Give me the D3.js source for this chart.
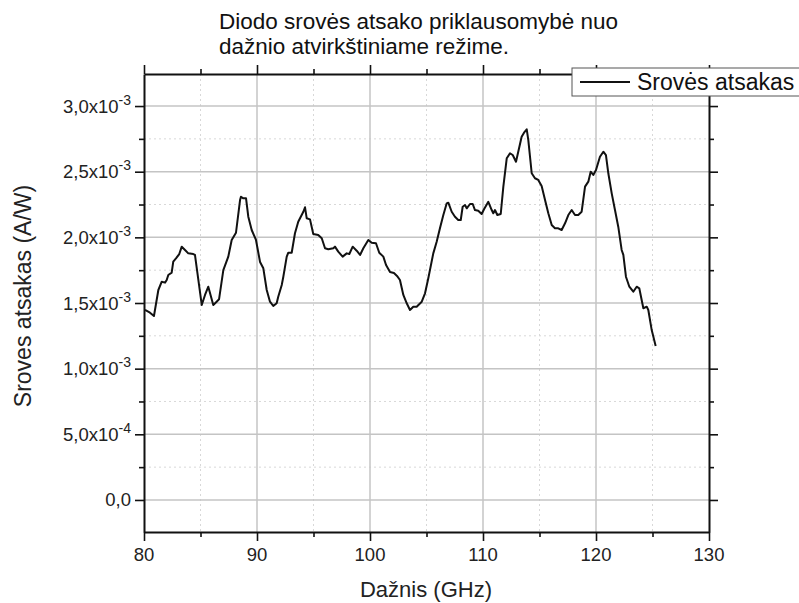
<!DOCTYPE html>
<html>
<head>
<meta charset="utf-8">
<script src="https://cdn.jsdelivr.net/npm/d3@7/dist/d3.min.js"></script>
<style>
  html, body { margin: 0; padding: 0; background: #fff; }
  svg { display: block; font-family: "Liberation Sans", Arial, sans-serif; }
</style>
</head>
<body>
<svg id="chart" width="799" height="603"></svg>
<script>
// Frequency (GHz) and current responsivity (A/W, in units of 1e-3)
const freqGHz = [
  80.09, 80.53, 80.88, 81.27, 81.57, 81.86, 82.01, 82.15, 82.45, 82.59,
  82.83, 83.12, 83.34, 83.63, 83.92, 84.36, 84.51, 85.11, 85.40, 85.69,
  86.13, 86.43, 86.64, 87.02, 87.46, 87.76, 88.14, 88.50, 88.58, 88.79,
  89.03, 89.23, 89.53, 89.91, 90.27, 90.56, 90.86, 91.15, 91.44, 91.74,
  91.88, 92.19, 92.33, 92.63, 92.77, 93.07, 93.36, 93.65, 94.10, 94.25,
  94.40, 94.69, 94.98, 95.42, 95.73, 96.02, 96.31, 96.75, 96.90, 97.19,
  97.58, 97.94, 98.17, 98.47, 98.82, 99.12, 99.41, 99.85, 100.15, 100.53,
  100.82, 101.18, 101.42, 101.77, 102.12, 102.39, 102.65, 102.95, 103.25, 103.54,
  103.83, 104.13, 104.58, 104.87, 105.16, 105.60, 105.90, 106.19, 106.49, 106.79,
  106.93, 107.23, 107.52, 107.81, 108.03, 108.20, 108.41, 108.56, 108.85, 109.09,
  109.29, 109.58, 109.88, 110.09, 110.47, 110.77, 110.91, 111.06, 111.27, 111.57,
  111.80, 112.10, 112.39, 112.63, 112.92, 113.12, 113.42, 113.63, 113.87, 114.01,
  114.31, 114.60, 114.89, 115.19, 115.49, 115.78, 116.08, 116.37, 116.66, 116.96,
  117.26, 117.55, 117.85, 118.14, 118.43, 118.73, 119.03, 119.32, 119.53, 119.76,
  120.00, 120.35, 120.65, 120.88, 121.09, 121.39, 121.68, 121.97, 122.27, 122.42,
  122.65, 122.95, 123.30, 123.60, 123.83, 124.19, 124.49, 124.63, 124.93, 125.28
];
const responseMilli = [
  1.447, 1.426, 1.401, 1.599, 1.662, 1.655, 1.675, 1.713, 1.731, 1.815,
  1.840, 1.873, 1.929, 1.904, 1.878, 1.873, 1.866, 1.485, 1.561, 1.624,
  1.485, 1.510, 1.528, 1.751, 1.853, 1.980, 2.035, 2.284, 2.309, 2.297,
  2.297, 2.157, 2.056, 1.980, 1.812, 1.764, 1.599, 1.510, 1.477, 1.498,
  1.548, 1.637, 1.700, 1.853, 1.883, 1.883, 2.031, 2.119, 2.195, 2.229,
  2.145, 2.137, 2.025, 2.018, 1.993, 1.917, 1.909, 1.917, 1.929, 1.891,
  1.853, 1.878, 1.873, 1.929, 1.898, 1.866, 1.917, 1.980, 1.959, 1.955,
  1.883, 1.853, 1.789, 1.736, 1.728, 1.706, 1.675, 1.561, 1.498, 1.447,
  1.472, 1.472, 1.510, 1.574, 1.688, 1.878, 1.967, 2.069, 2.170, 2.259,
  2.264, 2.195, 2.157, 2.132, 2.132, 2.233, 2.246, 2.221, 2.254, 2.254,
  2.208, 2.203, 2.178, 2.214, 2.271, 2.208, 2.183, 2.208, 2.170, 2.178,
  2.386, 2.602, 2.640, 2.627, 2.576, 2.652, 2.766, 2.797, 2.823, 2.741,
  2.488, 2.450, 2.437, 2.391, 2.284, 2.183, 2.094, 2.069, 2.069, 2.056,
  2.107, 2.170, 2.208, 2.170, 2.170, 2.195, 2.386, 2.424, 2.500, 2.475,
  2.513, 2.614, 2.652, 2.627, 2.488, 2.335, 2.208, 2.081, 1.904, 1.866,
  1.700, 1.624, 1.586, 1.624, 1.612, 1.460, 1.472, 1.447, 1.294, 1.173
];

// Axis ticks
const xMajorTicks = [80, 90, 100, 110, 120, 130];
const xMinorTicks = [85, 95, 105, 115, 125];
const yMajorTicks = [0, 5e-4, 1e-3, 1.5e-3, 2e-3, 2.5e-3, 3e-3];
const yMinorTicks = [2.5e-4, 7.5e-4, 1.25e-3, 1.75e-3, 2.25e-3, 2.75e-3];
const yTickMantissa = ["0,0", "5,0", "1,0", "1,5", "2,0", "2,5", "3,0"];
const yTickExponent = [null, "-4", "-3", "-3", "-3", "-3", "-3"];

const titleLines = ["Diodo srovės atsako priklausomybė nuo", "dažnio atvirkštiniame režime."];
const xTitle = "Dažnis (GHz)";
const yTitle = "Sroves atsakas (A/W)";
const legendLabel = "Srovės atsakas";

const points = freqGHz.map((f, i) => ({ f, v: responseMilli[i] * 1e-3 }));

const svg = d3.select("#chart");
const plotL = 144, plotR = 709, plotT = 74, plotB = 532;

const x = d3.scaleLinear().domain([80, 130]).range([plotL, plotR]);
const y = d3.scaleLinear().domain([-2.44e-4, 3.244e-3]).range([plotB, plotT]);

// Grid lines: dotted at minor ticks, solid at major ticks
const grid = svg.append("g");
grid.selectAll(".gxm").data(xMinorTicks).join("line")
  .attr("x1", d => x(d)).attr("x2", d => x(d)).attr("y1", plotT).attr("y2", plotB)
  .attr("stroke", "#d8d8d8").attr("stroke-width", 1).attr("stroke-dasharray", "2,3");
grid.selectAll(".gym").data(yMinorTicks).join("line")
  .attr("y1", d => y(d)).attr("y2", d => y(d)).attr("x1", plotL).attr("x2", plotR)
  .attr("stroke", "#d8d8d8").attr("stroke-width", 1).attr("stroke-dasharray", "2,3");
grid.selectAll(".gx").data(xMajorTicks.slice(1, -1)).join("line")
  .attr("x1", d => x(d)).attr("x2", d => x(d)).attr("y1", plotT).attr("y2", plotB)
  .attr("stroke", "#c4c4c4").attr("stroke-width", 1.5);
grid.selectAll(".gy").data(yMajorTicks).join("line")
  .attr("y1", d => y(d)).attr("y2", d => y(d)).attr("x1", plotL).attr("x2", plotR)
  .attr("stroke", "#c4c4c4").attr("stroke-width", 1.5);

// Data line
const line = d3.line().x(d => x(d.f)).y(d => y(d.v));
svg.append("path").datum(points)
  .attr("d", line).attr("fill", "none")
  .attr("stroke", "#111").attr("stroke-width", 2).attr("stroke-linejoin", "round");

// Axes on all four sides, ticks pointing outward
function styleAxis(g) {
  g.select(".domain").attr("stroke", "#111").attr("stroke-width", 2);
  g.selectAll(".tick line").attr("stroke", "#111").attr("stroke-width", 1.6);
  g.selectAll("text").remove();
}

[[plotB, d3.axisBottom], [plotT, d3.axisTop]].forEach(([pos, fn]) => {
  svg.append("g").attr("transform", `translate(0,${pos})`)
    .call(fn(x).tickValues(xMajorTicks).tickSize(9).tickSizeOuter(0)).call(styleAxis);
  svg.append("g").attr("transform", `translate(0,${pos})`)
    .call(fn(x).tickValues(xMinorTicks).tickSize(5).tickSizeOuter(0))
    .call(g => { styleAxis(g); g.select(".domain").remove(); });
});
[[plotL, d3.axisLeft], [plotR, d3.axisRight]].forEach(([pos, fn]) => {
  svg.append("g").attr("transform", `translate(${pos},0)`)
    .call(fn(y).tickValues(yMajorTicks).tickSize(9).tickSizeOuter(0)).call(styleAxis);
  svg.append("g").attr("transform", `translate(${pos},0)`)
    .call(fn(y).tickValues(yMinorTicks).tickSize(5).tickSizeOuter(0))
    .call(g => { styleAxis(g); g.select(".domain").remove(); });
});

// X tick labels
svg.append("g").selectAll("text").data(xMajorTicks).join("text")
  .attr("x", d => x(d)).attr("y", plotB + 29)
  .attr("text-anchor", "middle").attr("font-size", 18.5).attr("fill", "#222")
  .text(d => d);

// Y tick labels with superscript exponent
const ylab = svg.append("g").selectAll("text").data(yMajorTicks).join("text")
  .attr("x", plotL - 13).attr("y", d => y(d) + 6.5)
  .attr("text-anchor", "end").attr("font-size", 18.5).attr("fill", "#222");
ylab.each(function(d, i) {
  const t = d3.select(this);
  if (yTickExponent[i] === null) {
    t.text(yTickMantissa[i]);
  } else {
    t.append("tspan").text(yTickMantissa[i] + "x10");
    t.append("tspan").attr("dy", -8).attr("font-size", 14).text(yTickExponent[i]);
  }
});

// Axis titles
svg.append("text").attr("x", 426).attr("y", 597)
  .attr("text-anchor", "middle").attr("font-size", 22).attr("fill", "#222").text(xTitle);
svg.append("text").attr("transform", "translate(31,296) rotate(-90)")
  .attr("text-anchor", "middle").attr("font-size", 23).attr("fill", "#222").text(yTitle);

// Title
svg.append("g").selectAll("text").data(titleLines).join("text")
  .attr("x", 219).attr("y", (d, i) => 29 + i * 25)
  .attr("font-size", 22.5).attr("fill", "#111").text(d => d);

// Legend
const lg = svg.append("g");
lg.append("rect").attr("x", 572).attr("y", 68).attr("width", 240).attr("height", 28)
  .attr("fill", "#fff").attr("stroke", "#555").attr("stroke-width", 1);
lg.append("line").attr("x1", 580).attr("x2", 630).attr("y1", 82).attr("y2", 82)
  .attr("stroke", "#111").attr("stroke-width", 2);
lg.append("text").attr("x", 637).attr("y", 90).attr("font-size", 23).attr("fill", "#111")
  .text(legendLabel);
</script>
</body>
</html>
